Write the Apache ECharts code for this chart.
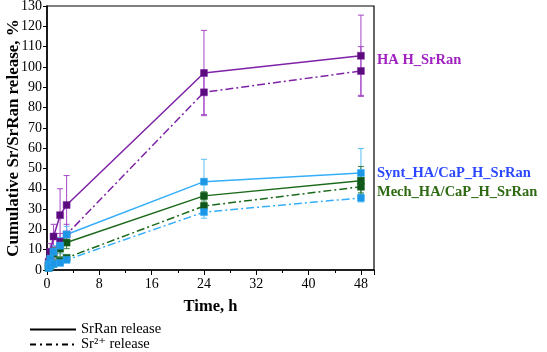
<!DOCTYPE html>
<html>
<head>
<meta charset="utf-8">
<script src="https://cdn.jsdelivr.net/npm/echarts@6/dist/echarts.min.js"></script>
<style>
    html, body {margin: 0; padding: 0; background: #fff;}
    #main {width: 547px; height: 352px;}
</style>
</head>
<body>
<div id="main"></div>
<script>
// time points, h
var times = [0.25, 0.5, 1, 2, 3, 24, 48];

// HA H_SrRan
var haSrRan = [4, 9, 16.5, 27, 32, 97, 105.5];
var haSrRanErr = [2, 4, 6, 13, 14.5, 21, 20];
var haSr = [2, 5, 8.5, 14, 17.5, 87.5, 98];
var haSrErr = [1, 2, 3, 4, 5, 11, 12];

// Synt_HA/CaP_H_SrRan
var syntSrRan = [3, 5.5, 9, 12, 17.5, 43.5, 47.8];
var syntSrRanErr = [1, 2, 3, 4, 4, 11, 12];
var syntSr = [1, 2, 3, 3.5, 5, 28.5, 35.5];
var syntSrErr = [0.5, 1, 1, 1, 1, 3, 2];

// Mech_HA/CaP_H_SrRan
var mechSrRan = [2, 4, 8, 10.5, 13.5, 36.5, 44];
var mechSrRanErr = [1, 2, 3, 4, 3, 2, 7];
var mechSr = [1, 2, 3, 4.5, 6, 31.5, 41];
var mechSrErr = [0.5, 1, 1, 1, 1, 2, 3];

var xTicks = [0, 8, 16, 24, 32, 40, 48];
var legendNames = ['SrRan release', 'Sr²⁺ release'];

var serif = '"Liberation Serif", "DejaVu Serif", serif';
var dashDot = [8, 3, 2, 3];

function pairs(vals) {
    return vals.map(function (v, i) { return [times[i], v]; });
}
function errPairs(vals, errs) {
    return vals.map(function (v, i) { return [times[i], v, errs[i]]; });
}

function renderErr(params, api) {
    var x = api.value(0), y = api.value(1), e = api.value(2);
    var top = api.coord([x, y + e]);
    var bot = api.coord([x, y - e]);
    var st = {stroke: api.visual('color'), lineWidth: 1};
    return {
        type: 'group',
        children: [
            {type: 'line', shape: {x1: top[0], y1: top[1], x2: bot[0], y2: bot[1]}, style: st},
            {type: 'line', shape: {x1: top[0] - 3, y1: top[1], x2: top[0] + 3, y2: top[1]}, style: st},
            {type: 'line', shape: {x1: bot[0] - 3, y1: bot[1], x2: bot[0] + 3, y2: bot[1]}, style: st}
        ]
    };
}

function lineSeries(vals, lineColor, markColor, dashed) {
    return {
        type: 'line',
        data: pairs(vals),
        symbol: 'rect',
        symbolSize: 7,
        z: 3,
        lineStyle: {color: lineColor, width: 1.5, type: dashed ? dashDot : 'solid'},
        itemStyle: {color: markColor, borderColor: lineColor, borderWidth: 0.5},
        legendHoverLink: false
    };
}
function errSeries(vals, errs, color) {
    return {
        type: 'custom',
        renderItem: renderErr,
        data: errPairs(vals, errs),
        itemStyle: {color: color},
        z: 2
    };
}

var purpleLine = '#7E22A6', purpleMark = '#5A0B7C', purpleErr = '#A548C6';
var blueLine = '#35AEFA', blueMark = '#1E96E6', blueErr = '#5CC0F5';
var greenLine = '#1B6A1B', greenMark = '#11561A', greenErr = '#3F7F3F';

var series = [
    errSeries(haSrRan, haSrRanErr, purpleErr),
    errSeries(haSr, haSrErr, purpleErr),
    errSeries(syntSrRan, syntSrRanErr, blueErr),
    errSeries(syntSr, syntSrErr, blueErr),
    errSeries(mechSrRan, mechSrRanErr, greenErr),
    errSeries(mechSr, mechSrErr, greenErr),
    lineSeries(haSrRan, purpleLine, purpleMark, false),
    lineSeries(haSr, purpleLine, purpleMark, true),
    lineSeries(mechSrRan, greenLine, greenMark, false),
    lineSeries(mechSr, greenLine, greenMark, true),
    lineSeries(syntSrRan, blueLine, blueMark, false),
    lineSeries(syntSr, blueLine, blueMark, true),
    // legend only
    {name: legendNames[0], type: 'line', data: [], symbol: 'none', itemStyle: {color: '#000'}, lineStyle: {color: '#000', width: 2, type: 'solid'}},
    {name: legendNames[1], type: 'line', data: [], symbol: 'none', itemStyle: {color: '#000'}, lineStyle: {color: '#000', width: 2.5, type: [6, 4, 2, 4]}}
];

var myChart = echarts.init(document.getElementById('main'));
var option = {
    animation: false,
    grid: {left: 47, right: 173, top: 6, bottom: 82, show: true, borderColor: '#000', borderWidth: 1.2, outerBoundsMode: 'none', containLabel: false},
    legend: {
        data: legendNames,
        orient: 'vertical',
        left: 29,
        bottom: 0,
        padding: 0,
        itemWidth: 46,
        itemHeight: 14,
        itemGap: 0,
        itemStyle: {opacity: 0},
        textStyle: {fontFamily: serif, fontSize: 14.5, color: '#000'}
    },
    xAxis: {
        type: 'value',
        min: 0,
        max: 50,
        interval: 8,
        name: 'Time, h',
        nameLocation: 'middle',
        nameGap: 28,
        nameMoveOverlap: false,
        nameTextStyle: {fontFamily: serif, fontSize: 16.5, fontWeight: 'bold', color: '#000'},
        splitLine: {show: false},
        axisLine: {lineStyle: {color: '#000', width: 1.5}},
        axisTick: {inside: false, length: 5, lineStyle: {color: '#000'}},
        minorTick: {show: true, splitNumber: 2, length: 3, lineStyle: {color: '#000'}},
        axisLabel: {
            fontFamily: serif, fontSize: 14, color: '#000', margin: 7,
            formatter: function (v) { return xTicks.indexOf(v) >= 0 ? String(v) : ''; }
        }
    },
    yAxis: {
        type: 'value',
        min: 0,
        max: 130,
        interval: 10,
        name: 'Cumulative Sr/SrRan release, %',
        nameLocation: 'middle',
        nameGap: 25,
        nameMoveOverlap: false,
        nameTextStyle: {fontFamily: serif, fontSize: 17, fontWeight: 'bold', color: '#000'},
        splitLine: {show: false},
        axisLine: {show: true, lineStyle: {color: '#000', width: 1.5}},
        axisTick: {show: true, inside: false, length: 4, lineStyle: {color: '#000'}},
        axisLabel: {fontFamily: serif, fontSize: 14, color: '#000', margin: 5}
    },
    graphic: [
        {type: 'text', left: 377, top: 53, style: {text: 'HA H_SrRan', fill: '#A020C0', font: 'bold 14.5px ' + serif}},
        {type: 'text', left: 377, top: 166, style: {text: 'Synt_HA/CaP_H_SrRan', fill: '#2B48FF', font: 'bold 14.5px ' + serif}},
        {type: 'text', left: 377, top: 185, style: {text: 'Mech_HA/CaP_H_SrRan', fill: '#2E6A12', font: 'bold 14.5px ' + serif}}
    ],
    series: series
};
myChart.setOption(option);
</script>
</body>
</html>
